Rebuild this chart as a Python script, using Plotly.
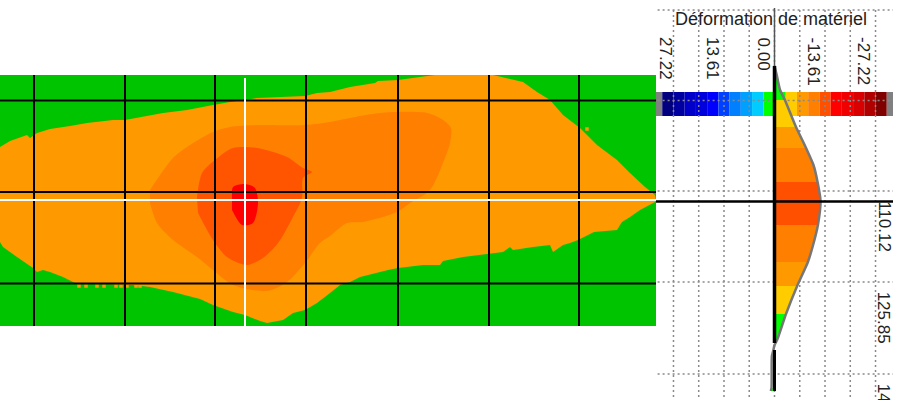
import plotly.graph_objects as go

# map contours (sample / line position)
green_x = [0, 656, 656, 0]
green_y = [75, 75, 326, 326]

orange_x = [0, 10, 27, 30, 37, 50, 70, 87, 113, 125, 163, 187, 213, 230, 257, 305, 317, 330, 350, 375, 378, 398, 420, 435,
            493, 507, 523, 537, 550, 563, 570, 580, 597, 617, 630, 645, 655, 656,
            655, 640, 630, 622, 620, 617, 594, 578, 570, 563, 553, 550, 533, 513, 510, 503, 487, 463, 443, 440, 423, 398, 388, 360, 350, 340, 330,
            317, 305, 293, 283, 267, 260, 245, 233, 213, 200, 173, 150, 133, 75, 63, 50, 43, 37, 33, 17, 8, 3, 0]
orange_y = [147, 141, 135, 138, 133, 129, 126, 123, 120, 120, 113, 110, 105, 102, 98, 96, 93, 92, 87, 83, 81, 80, 77, 75,
            75, 78, 82, 92, 100, 115, 120, 128, 145, 160, 173, 187, 195, 200,
            202, 210, 217, 222, 225, 230, 232, 240, 243, 245, 252, 245, 247, 250, 247, 252, 254, 257, 261, 265, 265, 268, 270, 277, 282, 285, 293,
            303, 310, 313, 320, 323, 321, 315, 312, 305, 299, 292, 287, 285, 283, 277, 272, 270, 272, 268, 257, 250, 247, 242]

dark_x = [150, 173, 190, 213, 230, 257, 305, 330, 340, 380, 427, 443, 451, 450, 443, 430, 410, 397, 363, 347,
          330, 320, 305, 287, 267, 233, 213, 197, 173, 157, 150]
dark_y = [190, 158, 145, 132, 127, 125, 125, 122, 120, 113, 113, 120, 128, 143, 163, 190, 203, 212, 222, 223,
          236, 243, 263, 282, 291, 285, 270, 257, 240, 223, 203]

hot_x = [197, 202, 215, 233, 257, 287, 303, 312, 303, 302, 293, 278, 263, 247, 227, 213, 198]
hot_y = [197, 173, 160, 148, 148, 157, 168, 172, 178, 198, 217, 243, 258, 265, 257, 240, 213]

peak_x = [232, 233, 245, 255, 258, 253, 242, 232]
peak_y = [197, 187, 184, 188, 203, 223, 225, 210]

speck_x = [79, 86, 97, 104, 116, 121, 127, 136, 140, 587]
speck_y = [286, 286, 286, 286, 286, 286, 286, 286, 286, 129]

map_grid_x = [34, 125, 215, 306, 398, 489, 579]
map_grid_y = [100.5, 192, 283.5]
cross_x = 245
cross_y = 200

# scale bar
scale_edges = [32.2, 30.25, 27.22, 24.2, 21.17, 18.15, 15.12, 12.1, 9.07, 6.05, 3.02,
               -3.02, -6.05, -9.07, -12.1, -15.12, -18.15, -21.17, -24.2, -27.22, -30.25, -32.2]
scale_colors = ["#808080", "#00007F", "#0000A0", "#0000C8", "#0000DC", "#0000FF", "#0040FF", "#0080FF",
                "#00A0FF", "#00CCFF", "#00FF00", "#FFCC00", "#FF9900", "#FF7F00", "#FF5000", "#FF0000",
                "#F00000", "#D80000", "#B00000", "#800000", "#808080"]

# deformation profile along the cross line
profile_y = [66, 75, 90, 100, 127, 148, 165, 182, 201, 225, 245, 262, 286, 314, 340, 345, 350, 356, 388, 391]
profile_val = [0, -0.6, -1.5, -2.8, -5.8, -8.5, -10.5, -11.6, -12.4, -11.7, -10.4, -9.0, -6.1, -3.1, -0.7, 0, 0.3, 0.7, 0.8, 1]
profile_colors = ["#00FF00", "#00FF00", "#00FF00", "#FFCC00", "#FF9900", "#FF7F00", "#FF7F00", "#FF5000", "#FF5000",
                  "#FF7F00", "#FF7F00", "#FF9900", "#FFCC00", "#00FF00", "#00FF00", None, None, None, "#00FF00"]

tick_pos = [26.3, 13.61, 0, -13.61, -27.22]
tick_text = ["27.22", "13.61", "0.00", "-13.61", "-27.22"]
grid_x = [27.22, 20.42, 13.61, 6.81, 0, -6.81, -13.61, -20.42, -27.22]
grid_y = [10, 100.5, 191, 282, 374]
side_labels = ["110.12", "125.85", "141.58"]
side_label_y = [191, 282, 374]
title_text = "Déformation de matériel"

fig = go.Figure()


def poly(px, py, color, shape="linear"):
    line = dict(color=color, width=0, shape=shape)
    if shape == "spline":
        line["smoothing"] = 0.8
    fig.add_trace(go.Scatter(x=px, y=py, fill="toself", fillcolor=color, mode="lines", line=line,
                             xaxis="x", yaxis="y", hoverinfo="skip"))


poly(green_x, green_y, "#00C400")
poly(orange_x, orange_y, "#FF9900")
poly(dark_x, dark_y, "#FF7F00", "spline")
poly(hot_x, hot_y, "#FF5500", "spline")
poly(peak_x, peak_y, "#FF0000", "spline")
fig.add_trace(go.Scatter(x=speck_x, y=speck_y, mode="markers", marker=dict(color="#FF9900", size=3.5, symbol="square"),
                         xaxis="x", yaxis="y"))

for gx in map_grid_x:
    fig.add_trace(go.Scatter(x=[gx, gx], y=[75, 326], mode="lines", line=dict(color="#000000", width=2),
                             xaxis="x", yaxis="y"))
for gy in map_grid_y:
    fig.add_trace(go.Scatter(x=[0, 656], y=[gy, gy], mode="lines", line=dict(color="#000000", width=2),
                             xaxis="x", yaxis="y"))
fig.add_trace(go.Scatter(x=[cross_x, cross_x], y=[78, 326], mode="lines", line=dict(color="#FFFFFF", width=2),
                         xaxis="x", yaxis="y"))
fig.add_trace(go.Scatter(x=[0, 656], y=[cross_y, cross_y], mode="lines", line=dict(color="#FFFFFF", width=2),
                         xaxis="x", yaxis="y"))

# right panel
widths = [scale_edges[i + 1] - scale_edges[i] for i in range(len(scale_colors))]
fig.add_trace(go.Bar(y=[104] * len(widths), x=widths, base=scale_edges[:-1], width=24, orientation="h",
                     marker=dict(color=scale_colors, line=dict(width=0)), xaxis="x2", yaxis="y"))

for gx in grid_x:
    fig.add_trace(go.Scatter(x=[gx, gx], y=[10, 400], mode="lines",
                             line=dict(color="#8A8A8A", width=1.5, dash="2px,3px"), xaxis="x2", yaxis="y"))
for gy in grid_y:
    fig.add_trace(go.Scatter(x=[31.5, -31.93], y=[gy, gy], mode="lines",
                             line=dict(color="#8A8A8A", width=1.5, dash="2px,3px"), xaxis="x2", yaxis="y"))

for i, c in enumerate(profile_colors):
    if c is None:
        continue
    fig.add_trace(go.Scatter(x=[0, profile_val[i], profile_val[i + 1], 0],
                             y=[profile_y[i], profile_y[i], profile_y[i + 1], profile_y[i + 1]],
                             fill="toself", fillcolor=c, mode="none", xaxis="x2", yaxis="y"))

fig.add_trace(go.Scatter(x=profile_val, y=profile_y, mode="lines", line=dict(color="#777777", width=2.5, shape="spline", smoothing=0.6),
                         xaxis="x2", yaxis="y"))
fig.add_trace(go.Scatter(x=[0, 0], y=[8, 66], mode="lines", line=dict(color="#555555", width=1.5),
                         xaxis="x2", yaxis="y"))
fig.add_trace(go.Scatter(x=[0, 0], y=[66, 343], mode="lines", line=dict(color="#000000", width=3.5),
                         xaxis="x2", yaxis="y"))
fig.add_trace(go.Scatter(x=[0, 0], y=[350, 391], mode="lines", line=dict(color="#000000", width=3),
                         xaxis="x2", yaxis="y"))
fig.add_trace(go.Scatter(x=[31.93, -31.93], y=[201.5, 201.5], mode="lines", line=dict(color="#000000", width=2.5),
                         xaxis="x2", yaxis="y"))

annotations = [dict(text=title_text, x=0.9, y=19, xref="x2", yref="y", showarrow=False,
                    font=dict(family="Liberation Sans", size=18, color="#222222"))]
for v, t in zip(tick_pos, tick_text):
    annotations.append(dict(text=t, x=v, y=35, xref="x2", yref="y", xanchor="right", yanchor="top", textangle=90,
                            showarrow=False, font=dict(family="Liberation Sans", size=17, color="#222222")))
for v, t in zip(side_label_y, side_labels):
    annotations.append(dict(text=t, x=-26.5, y=v, yshift=-8, xref="x2", yref="y", xanchor="left", yanchor="top", textangle=90,
                            showarrow=False, font=dict(family="Liberation Sans", size=17, color="#222222")))

fig.update_layout(
    width=900, height=400, autosize=False, showlegend=False, barmode="overlay",
    margin=dict(l=0, r=0, t=0, b=0), paper_bgcolor="#FFFFFF", plot_bgcolor="#FFFFFF",
    xaxis=dict(domain=[0, 656 / 900], range=[0, 656], visible=False),
    xaxis2=dict(domain=[656 / 900, 893 / 900], range=[31.93, -31.93], visible=False, anchor="y"),
    yaxis=dict(domain=[0, 1], range=[400, 0], visible=False),
    annotations=annotations,
)

# the default page leaves a body margin, take it off so the figure sits at 0,0
fig.write_html("out.html", config={"displayModeBar": False},
               post_script="document.body.style.margin='0';document.body.style.overflow='hidden';")
